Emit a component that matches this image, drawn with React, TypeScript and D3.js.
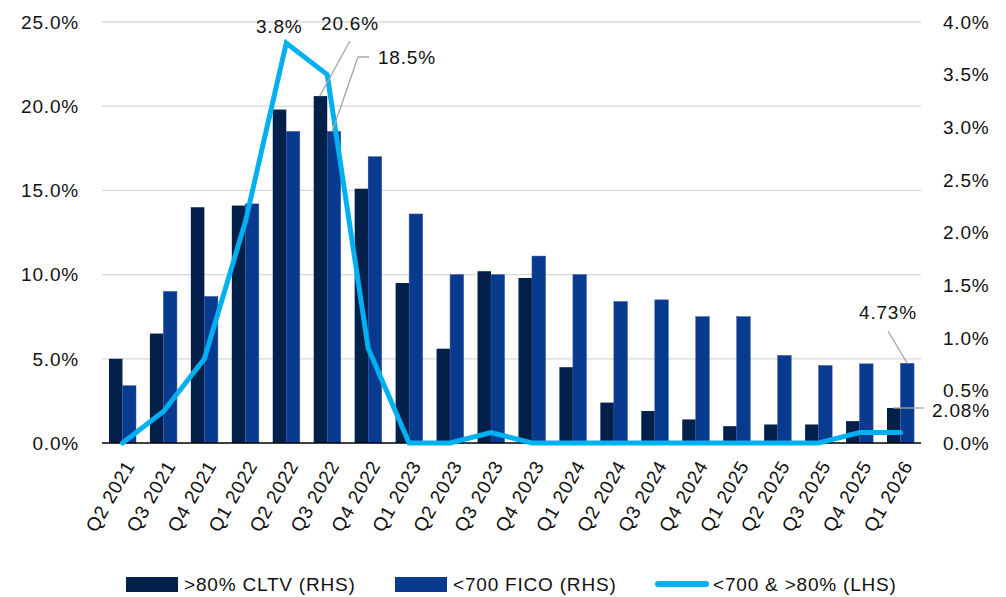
import React from "react";
import * as d3 from "d3";

const quarters = [
  "Q2 2021", "Q3 2021", "Q4 2021", "Q1 2022", "Q2 2022", "Q3 2022", "Q4 2022",
  "Q1 2023", "Q2 2023", "Q3 2023", "Q4 2023", "Q1 2024", "Q2 2024", "Q3 2024",
  "Q4 2024", "Q1 2025", "Q2 2025", "Q3 2025", "Q4 2025", "Q1 2026",
];
const cltv = [5.0, 6.5, 14.0, 14.1, 19.8, 20.6, 15.1, 9.5, 5.6, 10.2, 9.8, 4.5, 2.4, 1.9, 1.4, 1.0, 1.1, 1.1, 1.3, 2.08];
const fico = [3.4, 9.0, 8.7, 14.2, 18.5, 18.5, 17.0, 13.6, 10.0, 10.0, 11.1, 10.0, 8.4, 8.5, 7.5, 7.5, 5.2, 4.6, 4.7, 4.73];
const combo = [0.0, 0.3, 0.8, 2.1, 3.8, 3.5, 0.9, 0.0, 0.0, 0.1, 0.0, 0.0, 0.0, 0.0, 0.0, 0.0, 0.0, 0.0, 0.1, 0.1];
const leftTicks = [0, 5, 10, 15, 20, 25];
const rightTicks = [0, 0.5, 1, 1.5, 2, 2.5, 3, 3.5, 4];

const W = 1006;
const H = 597;
const m = { left: 102, right: 921, top: 22, bottom: 443 };
const DARK = "#03204A";
const BLUE = "#083B8F";
const LINE = "#00B0F0";
const FONT = "'Liberation Sans', Arial, sans-serif";
const FS = 19;
const LS = 0.8;

export default function App() {
  const x = d3.scaleBand().domain(quarters).range([m.left, m.right]).paddingInner(0.34).paddingOuter(0.17);
  const sub = d3.scaleBand().domain(["cltv", "fico"]).range([0, x.bandwidth()]);
  const yL = d3.scaleLinear().domain([0, 25]).range([m.bottom, m.top]);
  const yR = d3.scaleLinear().domain([0, 4]).range([m.bottom, m.top]);
  const cx = (q: string) => (x(q) as number) + x.bandwidth() / 2;
  const line = d3.line<number>().x((_, i) => cx(quarters[i])).y((d) => yR(d));

  const i3 = 5;
  const iLast = quarters.length - 1;

  return (
    <svg width={W} height={H} style={{ position: "absolute", left: 0, top: 0 }} fontFamily={FONT} fontSize={FS} letterSpacing={LS} fill="#111">
      <rect width={W} height={H} fill="#fff" />
      {leftTicks.slice(1).map((t) => (
        <line key={t} x1={m.left} x2={m.right} y1={yL(t)} y2={yL(t)} stroke="#D9D9D9" strokeWidth={1.3} />
      ))}
      {quarters.map((q, i) => (
        <g key={q}>
          <rect x={(x(q) as number) + (sub("cltv") as number)} y={yL(cltv[i])} width={sub.bandwidth()} height={yL(0) - yL(cltv[i])} fill={DARK} />
          <rect x={(x(q) as number) + (sub("fico") as number)} y={yL(fico[i])} width={sub.bandwidth()} height={yL(0) - yL(fico[i])} fill={BLUE} stroke="#2F55A0" strokeWidth={0.5} />
        </g>
      ))}
      <line x1={m.left} x2={m.right} y1={m.bottom} y2={m.bottom} stroke="#000" strokeWidth={1.3} />
      <path d={line(combo) as string} fill="none" stroke={LINE} strokeWidth={5} strokeLinejoin="miter" strokeLinecap="round" />

      {leftTicks.map((t) => (
        <text key={t} x={79} y={yL(t)} dy="0.36em" textAnchor="end">
          {t.toFixed(1)}%
        </text>
      ))}
      {rightTicks.map((t) => (
        <text key={t} x={943} y={yR(t)} dy="0.36em" textAnchor="start">
          {t.toFixed(1)}%
        </text>
      ))}
      {quarters.map((q) => (
        <text key={q} transform={`translate(${cx(q) + 7},${m.bottom + 19}) rotate(-60)`} textAnchor="end" dy="0.36em">
          {q}
        </text>
      ))}

      {/* data labels */}
      <text x={cx(quarters[4]) - 7} y={33} textAnchor="middle">{combo[4].toFixed(1)}%</text>
      <line x1={350} y1={41} x2={(x(quarters[i3]) as number) + 6} y2={yL(cltv[i3])} stroke="#A6A6A6" strokeWidth={1.3} />
      <text x={350} y={30} textAnchor="middle">{cltv[i3].toFixed(1)}%</text>
      <polyline points={`369,57 358,57 ${(x(quarters[i3]) as number) + sub.bandwidth() + 5},${yL(fico[i3])}`} fill="none" stroke="#A6A6A6" strokeWidth={1.3} />
      <text x={378} y={64} textAnchor="start">{fico[i3].toFixed(1)}%</text>
      <line x1={888} y1={331} x2={(x(quarters[iLast]) as number) + sub.bandwidth() * 1.5} y2={yL(fico[iLast])} stroke="#A6A6A6" strokeWidth={1.3} />
      <text x={888} y={319} textAnchor="middle">{fico[iLast].toFixed(2)}%</text>
      <line x1={893} y1={408} x2={924} y2={408} stroke="#A6A6A6" strokeWidth={1.3} />
      <text x={932} y={410} dy="0.36em" textAnchor="start">{cltv[iLast].toFixed(2)}%</text>

      {/* legend */}
      <rect x={126} y={577} width={52} height={15} fill={DARK} />
      <text x={184} y={584} dy="0.36em">&gt;80% CLTV (RHS)</text>
      <rect x={395} y={577} width={52} height={15} fill={BLUE} />
      <text x={453} y={584} dy="0.36em">&lt;700 FICO (RHS)</text>
      <line x1={658} x2={706} y1={584} y2={584} stroke={LINE} strokeWidth={6} strokeLinecap="round" />
      <text x={713} y={584} dy="0.36em">&lt;700 &amp; &gt;80% (LHS)</text>
    </svg>
  );
}
